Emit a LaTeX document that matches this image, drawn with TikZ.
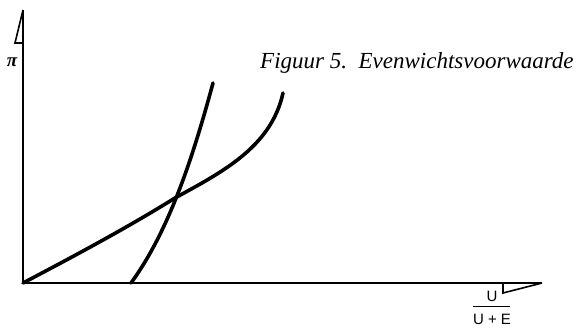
\documentclass[tikz,border=0pt]{standalone}
\usepackage{fontspec}
\setmainfont{Liberation Serif}
\newfontfamily\labelsans{Liberation Sans}
\begin{document}
\begin{tikzpicture}[x=1pt, y=-1pt,
    axis/.style={line width=1.6pt},
    curve/.style={line width=3.6pt, line cap=round, line join=round},
    ratiotext/.style={font=\labelsans\fontsize{15}{17}\selectfont, inner sep=1pt}]
  \useasboundingbox (0,0) rectangle (580,327);

  % Axes
  \coordinate (O) at (23,283);
  \coordinate (Ytop) at (23,10);
  \coordinate (Xend) at (542,283);

  \draw[axis] (O) -- (Ytop);
  \draw[axis] (O) -- (Xend);
  \draw[axis] (Ytop) -- (15,43) -- (23,43);
  \draw[axis] (Xend) -- (503,293) -- (503,283);

  % Curves
  \coordinate (S) at (175,198);
  \coordinate (Ctop) at (283,93);
  \coordinate (Dfoot) at (131,283);
  \coordinate (Dtop) at (213,83);
  \draw[curve] (O) .. controls (80,253) and (130,226) .. (S)
    .. controls (220,173) and (271,148) .. (Ctop);
  \draw[curve] (Dfoot) .. controls (169,231) and (193,157) .. (Dtop);

  % Labels
  \node[font=\itshape\bfseries\fontsize{19}{21}\selectfont] (pi) at (12,62) {π};
  \node[ratiotext] (num) at (492,296) {U};
  \node[ratiotext] (den) at (492,319) {U + E};
  \draw[line width=0.8pt] (473,306) coordinate (fracL) -- (510,306) coordinate (fracR);
  \node[font=\itshape\fontsize{23}{27}\selectfont, anchor=base west, inner sep=0pt]
    (title) at (260,68) {Figuur 5.\ \ Evenwichtsvoorwaarde};
\end{tikzpicture}
\end{document}
